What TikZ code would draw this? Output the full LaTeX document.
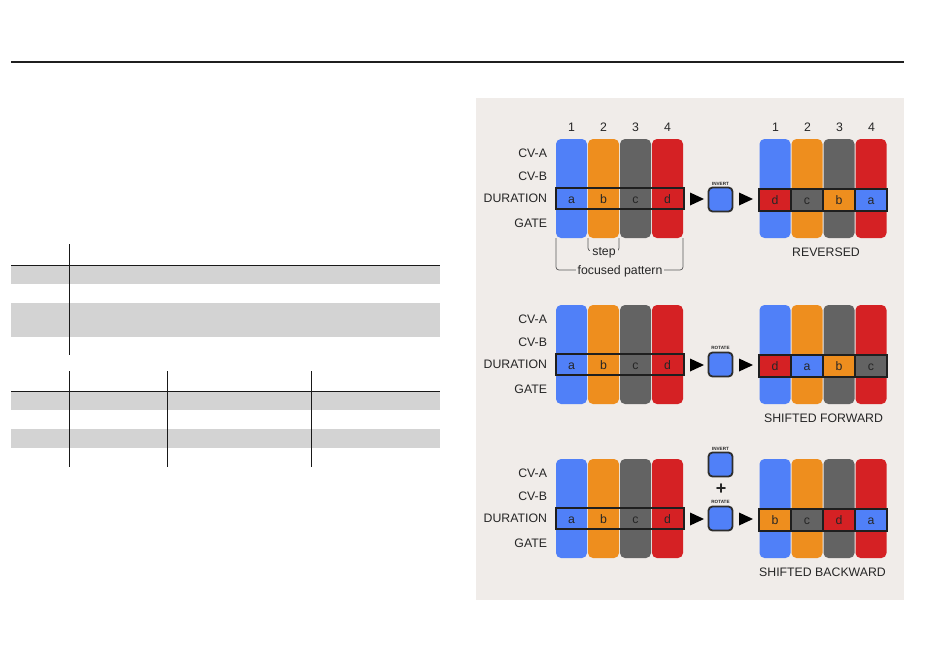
\documentclass[tikz,border=0pt]{standalone}
\usepackage{fontspec}
\setmainfont{Liberation Sans}
\definecolor{cblue}{RGB}{80,128,248}
\definecolor{corange}{RGB}{238,142,30}
\definecolor{cgray}{RGB}{99,99,99}
\definecolor{cred}{RGB}{213,33,36}
\definecolor{panelbg}{RGB}{240,236,233}
\definecolor{tgray}{RGB}{211,211,211}
\definecolor{txt}{RGB}{38,38,38}
\definecolor{btnedge}{RGB}{45,45,45}
\newcommand\myfs{\fontsize{12.3pt}{14pt}\selectfont}
\newcommand\mytiny{\fontsize{4.6pt}{5pt}\selectfont\bfseries}
\begin{document}
\begin{tikzpicture}[x=1pt,y=-1pt,
  every node/.style={inner sep=0pt,outer sep=0pt},
  col/.style={rectangle,rounded corners=5pt,minimum width=31pt,minimum height=99pt,fill=#1},
  lt/.style={font=\myfs,text=txt,text height=8.8pt,text depth=0pt},
  rowlbl/.style={lt,anchor=east},
  durbox/.style={rectangle,draw=black!88,line width=1.1pt,minimum width=128pt,minimum height=21pt},
  cell/.style={rectangle,fill=#1,draw=black!88,line width=1.1pt,minimum width=32pt,minimum height=22pt,font=\myfs,text=txt,text height=8.8pt,text depth=0pt},
  btn/.style={rectangle,rounded corners=4pt,fill=cblue,draw=btnedge,line width=1.8pt,minimum width=24pt,minimum height=24pt},
  btnlbl/.style={font=\mytiny,text=txt},
  brk/.style={draw=black!65,line width=0.7pt,rounded corners=3pt},
  tline/.style={draw=black!90,line width=1pt}]
\useasboundingbox (0,0) rectangle (950,648);
\fill[white] (0,0) rectangle (950,648);
% header rule
\draw[black!88,line width=1.2pt] (11,62) -- (904,62);
% left tables
\fill[tgray] (11,265) rectangle (440,284);
\fill[tgray] (11,303) rectangle (440,337);
\fill[tgray] (11,391) rectangle (440,410);
\fill[tgray] (11,429) rectangle (440,448);
\draw[tline] (11,265) -- (440,265);
\draw[tline] (69,244) -- (69,355);
\draw[tline] (11,391) -- (440,391);
\draw[tline] (69,371) -- (69,467);
\draw[tline] (167,371) -- (167,467);
\draw[tline] (311,371) -- (311,467);
% panel background
\fill[panelbg] (476,98) rectangle (904,600);
% numbers
\foreach \i in {0,...,3}{
  \pgfmathtruncatemacro\n{\i+1}
  \node[lt] (nl\i) at ({571.5+32*\i},127) {\n};
  \node[lt] (nr\i) at ({775.5+32*\i},127) {\n};
}
% three panels
\foreach \p/\T/\N/\X/\R in {
  1/139/REVERSED/826/{cred/d,cgray/c,corange/b,cblue/a},
  2/305/SHIFTED FORWARD/823.5/{cred/d,cblue/a,corange/b,cgray/c},
  3/459/SHIFTED BACKWARD/822.5/{corange/b,cgray/c,cred/d,cblue/a}}{
  \foreach \c/\l [count=\i from 0] in {cblue/a,corange/b,cgray/c,cred/d}{
    \node[col=\c] (L\p\i) at ({571.5+32*\i},{\T+49.5}) {};
    \node[lt] (Lt\p\i) at ({571.5+32*\i},{\T+60.5}) {\l};
  }
  \node[durbox] (D\p) at (620,{\T+59.5}) {};
  \node[rowlbl] (ra\p) at (547,{\T+14}) {CV-A};
  \node[rowlbl] (rb\p) at (547,{\T+37.5}) {CV-B};
  \node[rowlbl] (rd\p) at (547,{\T+59.5}) {DURATION};
  \node[rowlbl] (rg\p) at (547,{\T+84.5}) {GATE};
  \foreach \c [count=\i from 0] in {cblue,corange,cgray,cred}{
    \node[col=\c] (R\p\i) at ({775+32*\i},{\T+49.5}) {};
  }
  \foreach \c/\l [count=\i from 0] in \R{
    \node[cell=\c] (C\p\i) at ({775+32*\i},{\T+61}) {\l};
  }
  \node[lt] (res\p) at (\X,{\T+113}) {\N};
  \fill[black] (690,{\T+53.5}) -- (704,{\T+60}) -- (690,{\T+66.5}) -- cycle;
  \fill[black] (739,{\T+53.5}) -- (753,{\T+60}) -- (739,{\T+66.5}) -- cycle;
}
% buttons
\node[btn] (b1) at (720.5,199.5) {};
\node[btnlbl,anchor=south] (b1l) at ([yshift=2.5pt]b1.north) {INVERT};
\node[btn] (b2) at (720.5,364.5) {};
\node[btnlbl,anchor=south] (b2l) at ([yshift=2.5pt]b2.north) {ROTATE};
\node[btn] (b3a) at (720.5,464.5) {};
\node[btnlbl,anchor=south] (b3al) at ([yshift=2.5pt]b3a.north) {INVERT};
\node[font=\fontsize{18pt}{18pt}\selectfont\bfseries,text=txt] (plus) at (721,489) {+};
\node[btn] (b3b) at (720.5,518.5) {};
\node[btnlbl,anchor=south] (b3bl) at ([yshift=2.5pt]b3b.north) {ROTATE};
% brackets
\draw[brk] (L11.south west) -- ++(0,13) -| (L11.south east);
\node[lt,fill=panelbg,inner xsep=2pt,inner ysep=1pt,text depth=2.6pt,text height=8.8pt] (stepl) at (604,252.5) {step};
\draw[brk] (L10.south west) -- ++(0,32) -| (L13.south east);
\node[lt,fill=panelbg,inner xsep=2pt,inner ysep=1pt,text depth=2.6pt,text height=8.8pt] (focl) at (620,271.5) {focused pattern};
\end{tikzpicture}
\end{document}
